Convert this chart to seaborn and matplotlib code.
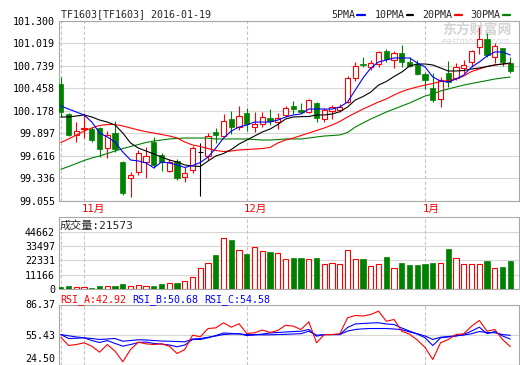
import numpy as np
import pandas as pd
import seaborn as sns
import matplotlib.pyplot as plt
from matplotlib.lines import Line2D
from matplotlib.transforms import blended_transform_factory

sns.set_theme(style="white")
plt.rcParams["font.family"] = ["DejaVu Sans Mono", "Noto Sans CJK SC"]

# ---- daily OHLC of TF1603, 2015-10-28 .. 2016-01-19
open_ = [100.509, 100.135, 99.877, 99.945, 99.948, 99.961, 99.708, 99.895, 99.534, 99.334,
         99.409, 99.541, 99.790, 99.624, 99.429, 99.550, 99.354, 99.438, 99.658, 99.616,
         99.911, 99.865, 100.069, 99.977, 100.151, 99.977, 100.011, 100.082, 100.032, 100.123,
         100.231, 100.189, 100.156, 100.268, 100.069, 100.169, 100.185, 100.288, 100.580, 100.754,
         100.717, 100.758, 100.920, 100.808, 100.891, 100.783, 100.758, 100.634, 100.463, 100.318,
         100.642, 100.580, 100.705, 100.787, 100.974, 101.066, 100.849, 100.961, 100.774]
high = [100.600, 100.148, 100.039, 100.151, 99.977, 99.977, 99.923, 100.048, 99.550, 99.409,
        99.687, 99.728, 99.845, 99.646, 99.575, 99.575, 99.479, 99.737, 99.770, 99.895,
        99.957, 100.135, 100.173, 100.239, 100.206, 100.164, 100.164, 100.201, 100.151, 100.239,
        100.297, 100.268, 100.318, 100.288, 100.214, 100.247, 100.256, 100.609, 100.787, 100.845,
        100.808, 100.924, 100.941, 100.920, 100.995, 100.842, 100.808, 100.662, 100.642, 100.600,
        100.799, 100.774, 100.808, 100.932, 101.223, 101.141, 101.016, 100.961, 100.842]
low = [100.098, 99.862, 99.790, 99.833, 99.790, 99.603, 99.590, 99.666, 99.126, 99.097,
       99.375, 99.334, 99.459, 99.425, 99.409, 99.313, 99.292, 99.396, 99.118, 99.562,
       99.770, 99.845, 99.882, 99.936, 99.927, 99.915, 99.970, 99.998, 99.948, 100.102,
       100.135, 100.144, 100.144, 100.039, 100.039, 100.077, 100.164, 100.268, 100.550, 100.715,
       100.683, 100.724, 100.787, 100.705, 100.724, 100.724, 100.621, 100.447, 100.288, 100.226,
       100.475, 100.559, 100.642, 100.724, 100.879, 100.849, 100.767, 100.733, 100.650]
close_ = [100.164, 99.874, 99.920, 99.957, 99.811, 99.699, 99.874, 99.699, 99.155, 99.375,
          99.646, 99.612, 99.500, 99.534, 99.534, 99.342, 99.396, 99.708, 99.658, 99.865,
          99.877, 100.044, 99.977, 100.114, 100.007, 100.011, 100.094, 100.052, 100.089, 100.206,
          100.201, 100.164, 100.306, 100.082, 100.185, 100.219, 100.219, 100.580, 100.733, 100.746,
          100.767, 100.904, 100.817, 100.891, 100.787, 100.737, 100.634, 100.559, 100.310, 100.559,
          100.538, 100.717, 100.746, 100.920, 101.066, 100.870, 100.982, 100.787, 100.675]

# moving averages as drawn on the chart
ma5 = [100.235, 100.197, 100.160, 100.123, 100.035, 99.898, 99.849, 99.786, 99.662, 99.562,
       99.550, 99.525, 99.463, 99.537, 99.525, 99.500, 99.469, 99.494, 99.531, 99.599,
       99.711, 99.836, 99.923, 99.973, 99.998, 100.035, 100.035, 100.035, 100.060, 100.098,
       100.123, 100.135, 100.197, 100.197, 100.197, 100.197, 100.222, 100.285, 100.434, 100.584,
       100.708, 100.783, 100.808, 100.833, 100.833, 100.833, 100.770, 100.721, 100.596, 100.546,
       100.534, 100.571, 100.621, 100.721, 100.783, 100.858, 100.908, 100.908, 100.870]
ma10 = [100.098, 100.098, 100.110, 100.123, 100.098, 100.060, 100.035, 99.998, 99.898, 99.774,
        99.711, 99.674, 99.637, 99.599, 99.562, 99.537, 99.500, 99.487, 99.481, 99.550,
        99.612, 99.643, 99.693, 99.761, 99.811, 99.861, 99.911, 99.948, 100.004, 100.073,
        100.098, 100.102, 100.104, 100.123, 100.123, 100.135, 100.164, 100.222, 100.310, 100.353,
        100.409, 100.496, 100.540, 100.602, 100.658, 100.733, 100.758, 100.758, 100.746, 100.708,
        100.671, 100.671, 100.677, 100.696, 100.708, 100.727, 100.746, 100.758, 100.771]
ma20 = [99.780, 99.824, 99.873, 99.923, 99.961, 99.992, 100.004, 100.004, 99.986, 99.961,
        99.936, 99.915, 99.898, 99.880, 99.861, 99.836, 99.786, 99.749, 99.730, 99.705,
        99.680, 99.668, 99.674, 99.687, 99.693, 99.699, 99.705, 99.718, 99.774, 99.811,
        99.836, 99.867, 99.898, 99.930, 99.961, 99.998, 100.042, 100.098, 100.148, 100.197,
        100.241, 100.285, 100.322, 100.372, 100.415, 100.447, 100.472, 100.496, 100.515, 100.540,
        100.552, 100.571, 100.609, 100.665, 100.696, 100.727, 100.746, 100.758, 100.764]
ma30 = [99.446, 99.481, 99.518, 99.556, 99.587, 99.612, 99.643, 99.674, 99.705, 99.730,
        99.755, 99.780, 99.799, 99.811, 99.824, 99.830, 99.836, 99.836, 99.836, 99.834,
        99.824, 99.824, 99.824, 99.824, 99.824, 99.817, 99.811, 99.811, 99.817, 99.824,
        99.824, 99.824, 99.836, 99.849, 99.861, 99.867, 99.874, 99.905, 99.973, 100.023,
        100.073, 100.116, 100.160, 100.197, 100.235, 100.272, 100.316, 100.359, 100.384, 100.422,
        100.447, 100.472, 100.496, 100.515, 100.534, 100.552, 100.571, 100.584, 100.596]

volume = [1560, 2340, 1560, 1560, 780, 2340, 2080, 2340, 3900, 2080,
          2860, 2080, 2340, 3900, 4670, 4670, 6230, 9350, 16100, 20000,
          26490, 39470, 38180, 30380, 27270, 32460, 29610, 28830, 27790, 23370,
          24150, 24150, 23370, 24150, 19220, 20000, 19220, 30380, 23370, 23370,
          17660, 19220, 24930, 16100, 20260, 18700, 18700, 19480, 20260, 20000,
          31160, 23890, 19220, 19220, 19220, 21810, 16100, 17140, 21573]

rsi_a = [52.6, 44.1, 45.1, 46.9, 43.4, 37.2, 45.1, 38.2, 27.3, 40.0,
         47.5, 45.8, 45.1, 45.8, 43.4, 35.8, 40.0, 54.7, 53.1, 61.6,
         62.3, 67.5, 63.0, 66.5, 56.5, 57.2, 60.1, 57.5, 59.6, 65.0,
         64.0, 60.6, 68.5, 46.9, 55.4, 55.4, 56.2, 72.7, 75.0, 74.5,
         76.1, 79.5, 69.1, 70.9, 58.8, 55.7, 49.8, 42.0, 29.7, 46.9,
         50.3, 55.4, 56.2, 64.0, 69.9, 58.8, 60.6, 50.3, 42.92]
rsi_b = [55.4, 51.3, 51.6, 52.0, 49.2, 47.2, 49.2, 46.2, 43.4, 45.1,
         47.2, 47.7, 46.2, 45.6, 44.6, 42.8, 44.6, 50.3, 50.3, 52.0,
         54.4, 57.0, 56.5, 56.2, 54.4, 54.9, 55.9, 57.0, 57.5, 58.0,
         58.5, 58.8, 60.6, 53.7, 55.4, 55.4, 55.4, 62.7, 66.3, 66.8,
         67.3, 67.5, 66.3, 65.7, 62.1, 59.0, 55.9, 52.0, 44.1, 52.0,
         52.9, 53.9, 55.4, 59.0, 63.0, 56.2, 58.5, 53.9, 50.68]
rsi_c = [55.4, 54.1, 52.9, 52.0, 51.3, 50.3, 50.8, 51.3, 48.5, 49.2,
         50.0, 49.8, 49.2, 48.7, 48.5, 48.2, 47.9, 50.8, 51.3, 52.6,
         53.9, 55.4, 56.0, 56.0, 55.4, 55.4, 55.1, 55.1, 55.4, 55.6,
         56.0, 56.3, 58.8, 54.7, 55.2, 55.4, 55.4, 59.0, 60.6, 61.3,
         61.6, 61.6, 61.6, 61.1, 60.4, 58.0, 56.2, 53.9, 50.3, 52.6,
         53.4, 54.1, 54.9, 56.2, 58.5, 57.5, 57.2, 55.4, 54.58]

price_ticks = [99.055, 99.336, 99.616, 99.897, 100.178, 100.458, 100.739, 101.019, 101.300]
vol_ticks = [0, 11166, 22331, 33497, 44662]
rsi_ticks = [24.50, 55.43, 86.37]
month_pos = [0, 3, 24, 47]
month_labels = ["", "11月", "12月", "1月"]

RED = "#ff0000"
GREEN = "#008000"
BLUE = "#0000ff"
GRID = "#d6d6d6"
FRAME = "#a8a8a8"
W = 0.68

df = pd.DataFrame({"open": open_, "high": high, "low": low, "close": close_,
                   "ma5": ma5, "ma10": ma10, "ma20": ma20, "ma30": ma30,
                   "vol": volume, "rsi_a": rsi_a, "rsi_b": rsi_b, "rsi_c": rsi_c})
df["x"] = np.arange(len(df))
up = df[df.close > df.open]
down = df[df.close < df.open]
flat = df[df.close == df.open]

fig = plt.figure(figsize=(5.2, 3.65), dpi=100)
L, WID = 58.5 / 520, 460.8 / 520
ax = fig.add_axes([L, (365 - 200.7) / 365, WID, 180.2 / 365])
ax_v = fig.add_axes([L, (365 - 289) / 365, WID, 72.5 / 365])
ax_r = fig.add_axes([L, 0.5 / 365, WID, 60 / 365])

xlim = (-0.30, 59.16)
for a in (ax, ax_v, ax_r):
    a.set_xlim(*xlim)
    a.set_xticks([])
    a.set_facecolor("white")
    for s in a.spines.values():
        s.set_color(FRAME)
        s.set_linewidth(0.8)
    a.tick_params(axis="y", length=0, pad=2.5, labelsize=7.2, colors="black")
    a.yaxis.grid(True, color=GRID, linewidth=0.8)
    a.set_axisbelow(True)
    for m in month_pos:
        a.axvline(m, color="#c4c4c4", linewidth=0.8, linestyle=(0, (3, 2)), zorder=1)
    a.set_xlabel("")
    a.set_ylabel("")

# ---- price panel
ax.vlines(down.x, down.low, down.high, color=GREEN, linewidth=0.8, zorder=2)
ax.bar(down.x, down.open - down.close, bottom=down.close, width=W,
       facecolor=GREEN, edgecolor=GREEN, linewidth=0.5, zorder=3)
ax.vlines(up.x, up.close, up.high, color=RED, linewidth=0.8, zorder=2)
ax.vlines(up.x, up.low, up.open, color=RED, linewidth=0.8, zorder=2)
ax.bar(up.x, up.close - up.open, bottom=up.open, width=W,
       facecolor="white", edgecolor=RED, linewidth=0.8, zorder=3)
ax.vlines(flat.x, flat.low, flat.high, color="black", linewidth=0.8, zorder=3)
ax.hlines(flat.close, flat.x - W / 2, flat.x + W / 2, color="black", linewidth=0.8, zorder=3)

for col, c in [("ma30", GREEN), ("ma20", RED), ("ma10", "black"), ("ma5", BLUE)]:
    sns.lineplot(data=df, x="x", y=col, color=c, linewidth=0.8, ax=ax, legend=False, zorder=4)

ax.set_ylim(price_ticks[0], price_ticks[-1])
ax.set_yticks(price_ticks)
ax.set_yticklabels([f"{t:.3f}" for t in price_ticks])
ax.set_xlabel("")
ax.set_ylabel("")

trans = blended_transform_factory(ax.transData, ax.transAxes)
for m, lab in zip(month_pos, month_labels):
    ax.text(m - 0.35, -0.046, lab, transform=trans, color=RED, fontsize=7.6,
            ha="left", va="center")

ax.text(0.832, 0.947, "东方财富网", transform=ax.transAxes, color="#d4d4d4",
        fontsize=10, fontweight="bold", family=["Noto Sans CJK SC"], ha="left",
        va="center", zorder=0.5)
ax.text(0.832, 0.883, "eastmoney.com", transform=ax.transAxes, color="#dadada",
        fontsize=6.2, fontstyle="italic", family=["DejaVu Sans"], ha="left",
        va="center", zorder=0.5)

# ---- volume panel
vol_up = df[df.close >= df.open]
vol_dn = df[df.close < df.open]
ax_v.bar(vol_dn.x, vol_dn.vol, width=W, facecolor=GREEN, edgecolor=GREEN,
         linewidth=0.5, zorder=3)
ax_v.bar(vol_up.x, vol_up.vol, width=W, facecolor="white", edgecolor=RED,
         linewidth=0.8, zorder=3)
ax_v.set_ylim(0, 56510)
ax_v.set_yticks(vol_ticks)
ax_v.set_yticklabels([str(t) for t in vol_ticks])
ax_v.set_xlabel("")
ax_v.set_ylabel("")

# ---- RSI panel
for col, c in [("rsi_c", BLUE), ("rsi_b", BLUE), ("rsi_a", RED)]:
    sns.lineplot(data=df, x="x", y=col, color=c, linewidth=0.8, ax=ax_r, legend=False, zorder=4)
ax_r.set_ylim(rsi_ticks[0], rsi_ticks[-1])
ax_r.set_yticks(rsi_ticks)
ax_r.set_yticklabels([f"{t:.2f}" for t in rsi_ticks])
ax_r.yaxis.get_major_ticks()[0].label1.set_verticalalignment("bottom")
ax_r.set_xlabel("")
ax_r.set_ylabel("")


def fx(px):
    return px / 520


def fy(py):
    return 1 - py / 365


# ---- header texts
fig.text(fx(61), fy(14.5), "TF1603[TF1603] 2016-01-19", fontsize=7.2, va="center")
legend_items = [("5PMA", BLUE, 331, 357, 365), ("10PMA", "black", 374.3, 406.7, 413.3),
                ("20PMA", RED, 422.3, 455, 461.7), ("30PMA", GREEN, 470.7, 502.7, 510)]
for name, c, tx, x0, x1 in legend_items:
    fig.text(fx(tx), fy(14.5), name, fontsize=7.2, va="center")
    fig.add_artist(Line2D([fx(x0), fx(x1)], [fy(15), fy(15)], color=c, linewidth=1.6))

fig.text(fx(60), fy(226), "成交量:21573", fontsize=8, va="center",
         bbox=dict(facecolor="white", edgecolor="none", pad=0.3))
fig.text(fx(60), fy(300), "RSI_A:42.92", fontsize=7.2, va="center", color=RED)
fig.text(fx(132.3), fy(300), "RSI_B:50.68", fontsize=7.2, va="center", color=BLUE)
fig.text(fx(204), fy(300), "RSI_C:54.58", fontsize=7.2, va="center", color=BLUE)

fig.savefig("out.png", dpi=100)
